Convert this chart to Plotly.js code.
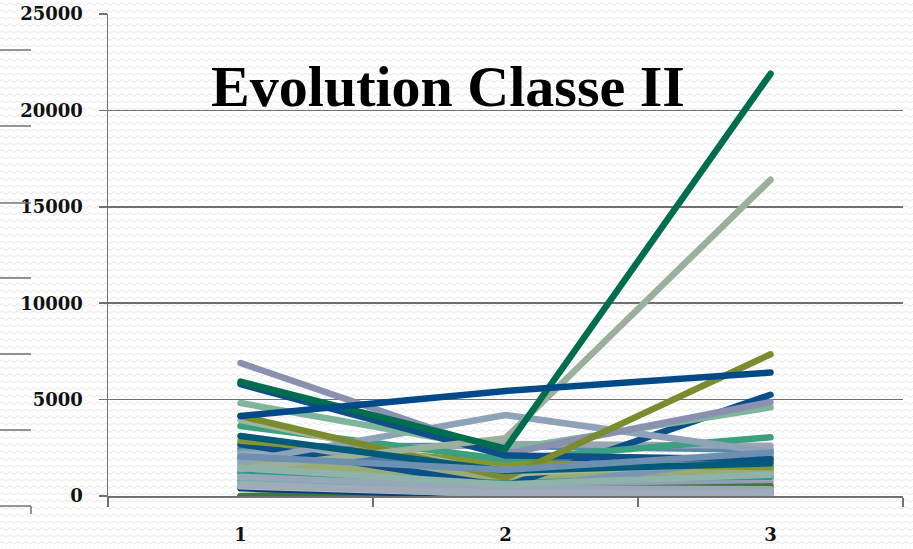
<!DOCTYPE html>
<html>
<head>
<meta charset="utf-8">
<script src="https://cdn.plot.ly/plotly-3.0.1.min.js"></script>
<style>
  html, body { margin: 0; padding: 0; }
  body {
    width: 913px; height: 549px; overflow: hidden;
    background-color: #ffffff;
    background-image: url("data:image/svg+xml;utf8,<svg xmlns='http://www.w3.org/2000/svg' width='8' height='7'><path d='M0 4 Q2 1.5 4 4 T8 4' fill='none' stroke='%23e6e6e6' stroke-width='1'/></svg>");
  }
  #chart { width: 913px; height: 549px; }
  .scatterlayer .js-line { stroke-linecap: round; }
</style>
</head>
<body>
<div id="chart"></div>
<script>
// Periods on the category axis
const periods = ['1', '2', '3'];

// One series per tracked item: value at period 1, 2, 3
const s01 = [2560, 2600, 2390];
const s02 = [2400, 1500, 2000];
const s03 = [2300, 1600, 1200];
const s04 = [2150, 2700, 2600];
const s05 = [1300, 800, 1900];
const s06 = [1900, 1100, 1000];
const s07 = [1100, 700, 800];
const s08 = [900, 500, 650];
const s09 = [700, 200, 300];
const s10 = [2000, 1800, 1500];
const s11 = [0, 300, 500];
const s12 = [400, 0, 150];
const s13 = [1600, 1200, 1300];
const s14 = [1200, 900, 1000];
const s15 = [1700, 1000, 1400];
const s16 = [800, 300, 2100];
const s17 = [500, 100, 60];
const s18 = [650, 50, 0];
const s19 = [2700, 500, 5250];
const s20 = [2870, 1700, 1500];
const s21 = [3630, 1900, 3050];
const s22 = [3940, 1150, 1800];
const s23 = [1780, 4200, 2280];
const s24 = [4820, 2400, 4600];
const s25 = [6900, 2200, 4870];
const s26 = [5800, 2100, 1900];
const s27 = [4150, 950, 7350];
const s28 = [1400, 3000, 16400];
const s29 = [5930, 2450, 21900];
const s30 = [4150, 5450, 6400];
const s31 = [3110, 1300, 1700];
const s32 = [1000, 400, 350];
const s33 = [1450, 600, 1100];
const s34 = [2050, 1350, 2250];
const s35 = [550, 150, 200];

const seriesList = [s01, s02, s03, s04, s05, s06, s07, s08, s09, s10,
                    s11, s12, s13, s14, s15, s16, s17, s18, s19, s20,
                    s21, s22, s23, s24, s25, s26, s27, s28, s29, s30,
                    s31, s32, s33, s34, s35];

const seriesColors = [
  '#5b87a8', '#5a6ea0', '#6aa8a8', '#9aa6b4', '#a5a97a',
  '#8fb0a0', '#a4b4c0', '#9a9ab8', '#7ab0b0', '#4a78a8',
  '#3d7a3a', '#0a3d7a', '#8da2b6', '#2b9a8a', '#9aab76',
  '#7d95b5', '#b0bcc0', '#82b8b0', '#0b4f8a', '#86962e',
  '#3aa080', '#a3b59a', '#8fa3b8', '#7fb59a', '#8a90b0',
  '#0d4f86', '#7a8c2e', '#9bb09a', '#006e4e', '#004a8a',
  '#005a7a', '#96a8b8', '#8fb2aa', '#6d8fb0', '#a0aab8'
];

// Axis tick labels
const yTickValues = [0, 5000, 10000, 15000, 20000, 25000];
const yTickLabels = ['0', '5000', '10000', '15000', '20000', '25000'];

const traces = seriesList.map((vals, i) => ({
  type: 'scatter',
  mode: 'lines',
  x: periods,
  y: vals,
  line: { color: seriesColors[i], width: 6.5 },
  hoverinfo: 'skip',
  showlegend: false
}));

const W = 913, H = 549;
const M = { l: 108, r: 10, t: 14, b: 53 };
const plotW = W - M.l - M.r, plotH = H - M.t - M.b;
const px2x = p => (p - M.l) / plotW;
const px2y = p => (H - M.b - p) / plotH;

// Short rules down the left edge of the page
const ruleRows = [50, 126, 203, 278, 354, 430, 506];
const axisGray = '#707070';
const shapes = ruleRows.map(r => ({
  type: 'line', xref: 'paper', yref: 'paper',
  x0: px2x(0), x1: px2x(31), y0: px2y(r), y1: px2y(r),
  line: { color: axisGray, width: 1.5 }
}));
shapes.push({
  type: 'line', xref: 'paper', yref: 'paper',
  x0: px2x(31), x1: px2x(31), y0: px2y(506), y1: px2y(514),
  line: { color: axisGray, width: 1.5 }
});

const tickFont = { family: 'DejaVu Serif, serif', size: 18, color: '#111111', weight: 'bold' };

const layout = {
  width: W, height: H,
  margin: M,
  paper_bgcolor: 'rgba(0,0,0,0)',
  plot_bgcolor: 'rgba(0,0,0,0)',
  showlegend: false,
  title: {
    text: '<b>Evolution Classe II</b>',
    font: { family: 'Liberation Serif, serif', size: 58, color: '#000000' },
    xref: 'container', yref: 'container',
    x: 448 / W, y: 1 - 86 / H,
    xanchor: 'center', yanchor: 'middle'
  },
  xaxis: {
    type: 'category',
    range: [-0.5, 2.5],
    tickson: 'boundaries',
    ticks: 'outside', ticklen: 9, tickwidth: 1.5, tickcolor: axisGray,
    showline: true, linecolor: axisGray, linewidth: 1.5,
    showgrid: false, zeroline: false,
    tickfont: tickFont,
    ticklabelstandoff: 22
  },
  yaxis: {
    range: [0, 25000],
    tickvals: yTickValues, ticktext: yTickLabels,
    ticks: 'outside', ticklen: 8, tickwidth: 1.5, tickcolor: axisGray,
    showline: true, linecolor: axisGray, linewidth: 1.5,
    showgrid: true, gridcolor: axisGray, gridwidth: 1.5,
    zeroline: false,
    tickfont: tickFont,
    ticklabelstandoff: 12
  },
  shapes: shapes
};

Plotly.newPlot('chart', traces, layout, { staticPlot: true, displayModeBar: false });
</script>
</body>
</html>
